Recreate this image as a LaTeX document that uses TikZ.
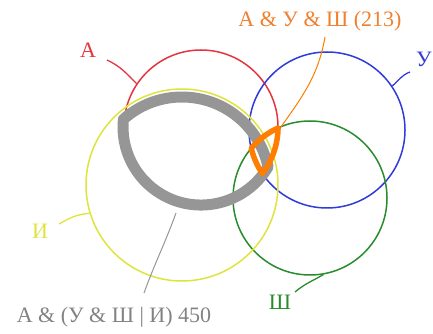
\documentclass[tikz,border=0pt]{standalone}
\usepackage{fontspec}
\setmainfont{Liberation Serif}
\definecolor{cA}{RGB}{228,52,62}
\definecolor{cU}{RGB}{48,60,215}
\definecolor{cS}{RGB}{40,140,45}
\definecolor{cI}{RGB}{222,228,60}
\definecolor{cO}{RGB}{255,125,0}
\definecolor{cOt}{RGB}{240,128,45}
\definecolor{cG}{RGB}{150,150,150}
\definecolor{cGt}{RGB}{130,130,130}
\begin{document}
\begin{tikzpicture}[x=1pt,y=1pt,
  ring/.style={circle,draw,line width=1.5pt,inner sep=0pt,minimum size=#1},
  lbl/.style={font=\fontsize{22}{26}\selectfont,inner sep=0pt,anchor=base},
  leader/.style={line width=1.3pt}]
\useasboundingbox (0,0) rectangle (433,334);
% circles
\node[ring=154pt,draw=cA] (A) at (201,207) {};
\node[ring=156pt,draw=cU] (U) at (327,204) {};
\node[ring=154pt,draw=cS] (S) at (310,136) {};
\node[ring=192pt,draw=cI] (I) at (182,149) {};
% gray region A & I
\draw[cG,line width=11pt,line join=round] (123.3,214.6)
  arc[start angle=131.8,end angle=11.9,radius=88]
  arc[start angle=-30.7,end angle=-185.6,radius=78] -- cycle;
% orange region A & U & S
\draw[cO,line width=5.5pt,line join=round] (278,206)
  arc[start angle=114.6,end angle=139.8,radius=77]
  arc[start angle=193.6,end angle=214.0,radius=78]
  arc[start angle=-37.2,end angle=-0.7,radius=77] -- cycle;
% labels
\node[lbl,text=cA] (lA) at (88,276) {А};
\node[lbl,text=cU] (lU) at (424,267) {У};
\node[lbl,text=cI] (lI) at (40,95) {И};
\node[lbl,text=cS] (lS) at (280,24) {Ш};
\node[lbl,text=cOt] (lO) at (320,307) {А \& У \& Ш (213)};
\node[lbl,text=cGt] (lG) at (114,11) {А \& (У \& Ш | И) 450};
% leader ends
\coordinate (cA0) at (107,274);
\coordinate (cU0) at (410,262);
\coordinate (cI0) at (59,110);
\coordinate (cS0) at (295,42);
\coordinate (cO0) at (325,297);
\coordinate (cO1) at (281,207);
\coordinate (cG0) at (144,41);
\coordinate (cG1) at (176,121);
% leaders
\draw[leader,cA] (cA0) to[out=-25,in=135] (A.146);
\draw[leader,cU] (cU0) to[out=200,in=40] (U.34);
\draw[leader,cI] (cI0) to[out=30,in=185] (I.197);
\draw[leader,cS] (cS0) to[out=40,in=210] (S.280);
\draw[leader,cO,line width=1pt] (cO0) to[out=-100,in=55] (cO1);
\draw[leader,cG,line width=1pt] (cG0) to[out=70,in=250] (cG1);
\end{tikzpicture}
\end{document}
